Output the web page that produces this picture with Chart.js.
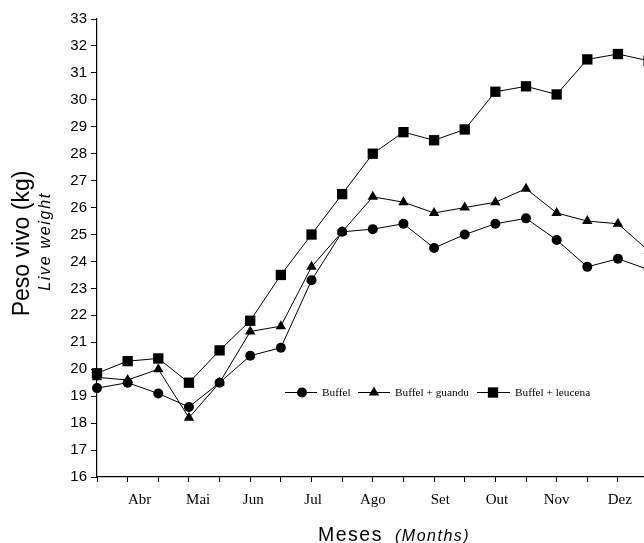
<!DOCTYPE html>
<html lang="pt">
<head>
<meta charset="UTF-8">
<title>Peso vivo</title>
<script src="https://cdn.jsdelivr.net/npm/chart.js@4.4.1/dist/chart.umd.min.js"></script>
<style>
  body { margin: 0; background: #fff; }
  #wrap { width: 644px; height: 543px; }
</style>
</head>
<body>
<div id="wrap"><canvas id="peso_chart" width="644" height="543"></canvas></div>

<script>
  // pesagens quinzenais, kg
  var buffel  = [19.3, 19.5, 19.1, 18.6, 19.5, 20.5, 20.8, 23.3, 25.1, 25.2, 25.4, 24.5, 25.0, 25.4, 25.6, 24.8, 23.8, 24.1, 23.7];
  var guandu  = [19.7, 19.6, 20.0, 18.2, 19.5, 21.4, 21.6, 23.8, 25.1, 26.4, 26.2, 25.8, 26.0, 26.2, 26.7, 25.8, 25.5, 25.4, 24.4];
  var leucena = [19.85, 20.3, 20.4, 19.5, 20.7, 21.8, 23.5, 25.0, 26.5, 28.0, 28.8, 28.5, 28.9, 30.3, 30.5, 30.2, 31.5, 31.7, 31.45];

  var seriesNames = ['Buffel', 'Buffel + guandu', 'Buffel + leucena'];
  var months  = ['Abr', 'Mai', 'Jun', 'Jul', 'Ago', 'Set', 'Out', 'Nov', 'Dez'];
  var monthAt = [1.39, 3.3, 5.1, 7.05, 9, 11.2, 13.05, 15, 17.06];

  var yMin = 16, yMax = 33;
  var xMax = 17.85; // the last weighing falls just past the right edge

  function toPoints(arr) {
    return arr.map(function (v, i) { return { x: i, y: v }; });
  }

  function drawMarker(ctx, style, x, y, r) {
    ctx.beginPath();
    if (style === 'circle') {
      ctx.arc(x, y, r, 0, Math.PI * 2);
    } else if (style === 'triangle') {
      ctx.moveTo(x, y - r);
      ctx.lineTo(x + r * 0.866, y + r * 0.5);
      ctx.lineTo(x - r * 0.866, y + r * 0.5);
      ctx.closePath();
    } else {
      ctx.rect(x - r * 0.707, y - r * 0.707, r * 1.414, r * 1.414);
    }
    ctx.fill();
  }

  // month names, axis titles and the in-plot legend
  const extras = {
    id: 'extras',
    afterDraw(chart) {
      const ctx = chart.ctx;
      const xs = chart.scales.x;
      ctx.save();
      ctx.fillStyle = '#000';
      ctx.strokeStyle = '#000';

      ctx.font = '15px "Liberation Serif"';
      ctx.textAlign = 'center';
      ctx.textBaseline = 'alphabetic';
      months.forEach(function (m, i) {
        ctx.fillText(m, xs.getPixelForValue(monthAt[i]), 504);
      });

      // x title
      ctx.textAlign = 'left';
      ctx.letterSpacing = '1.5px';
      ctx.font = '19.5px "Liberation Sans"';
      ctx.fillText('Meses', 318, 541);
      ctx.font = 'italic 16px "Liberation Sans"';
      ctx.fillText('(Months)', 395, 541);

      // y title
      ctx.textAlign = 'center';
      ctx.save();
      ctx.letterSpacing = '0px';
      ctx.translate(28.5, 243.5);
      ctx.rotate(-Math.PI / 2);
      ctx.font = '23px "Liberation Sans"';
      ctx.fillText('Peso vivo (kg)', 0, 0);
      ctx.restore();
      ctx.save();
      ctx.letterSpacing = '1.7px';
      ctx.translate(49.8, 241.5);
      ctx.rotate(-Math.PI / 2);
      ctx.font = 'italic 16px "Liberation Sans"';
      ctx.fillText('Live weight', 0, 0);
      ctx.restore();
      ctx.letterSpacing = '0px';

      // legend
      var items = [
        { x0: 285, x1: 317, mx: 302, tx: 322 },
        { x0: 358, x1: 390, mx: 374, tx: 395 },
        { x0: 477, x1: 510, mx: 493, tx: 515 }
      ];
      var ly = 392.5;
      ctx.font = '11.3px "Liberation Serif"';
      ctx.textAlign = 'left';
      ctx.textBaseline = 'middle';
      ctx.lineWidth = 1;
      chart.data.datasets.forEach(function (ds, i) {
        var it = items[i];
        ctx.beginPath();
        ctx.moveTo(it.x0, ly);
        ctx.lineTo(it.x1, ly);
        ctx.stroke();
        drawMarker(ctx, ds.pointStyle, it.mx, ly, ds.pointRadius);
        ctx.fillText(seriesNames[i], it.tx, ly + 0.5);
      });
      ctx.restore();
    }
  };

  function lineSet(label, values, style, radius) {
    return {
      label: label,
      data: toPoints(values),
      borderColor: '#000',
      borderWidth: 1,
      backgroundColor: '#000',
      pointBackgroundColor: '#000',
      pointBorderWidth: 0,
      pointStyle: style,
      pointRadius: radius,
      tension: 0,
      clip: false
    };
  }

  new Chart(document.getElementById('peso_chart'), {
    type: 'line',
    data: {
      datasets: [
        lineSet(seriesNames[0], buffel, 'circle', 5),
        lineSet(seriesNames[1], guandu, 'triangle', 6),
        lineSet(seriesNames[2], leucena, 'rect', 7.3)
      ]
    },
    options: {
      responsive: false,
      animation: false,
      layout: { autoPadding: false, padding: { top: 19, right: 0, bottom: 0, left: 0 } },
      plugins: { legend: { display: false }, tooltip: { enabled: false } },
      scales: {
        x: {
          type: 'linear',
          min: 0,
          max: xMax,
          afterBuildTicks: function (scale) {
            scale.ticks = buffel.map(function (v, i) { return { value: i }; })
              .filter(function (t) { return t.value <= xMax; });
          },
          afterFit: function (scale) { scale.height = 66; },
          ticks: { callback: function () { return ''; } },
          grid: { drawOnChartArea: false, drawTicks: true, tickLength: 5, color: '#000', lineWidth: 1 },
          border: { display: true, color: '#000', width: 1.2 }
        },
        y: {
          min: yMin,
          max: yMax,
          afterFit: function (scale) { scale.width = 97; },
          ticks: {
            stepSize: 1,
            color: '#000',
            padding: 4,
            font: { family: '"Liberation Sans"', size: 15 }
          },
          grid: { drawOnChartArea: false, drawTicks: true, tickLength: 6, color: '#000', lineWidth: 1 },
          border: { display: true, color: '#000', width: 1.2 }
        }
      }
    },
    plugins: [extras]
  });
</script>
</body>
</html>
